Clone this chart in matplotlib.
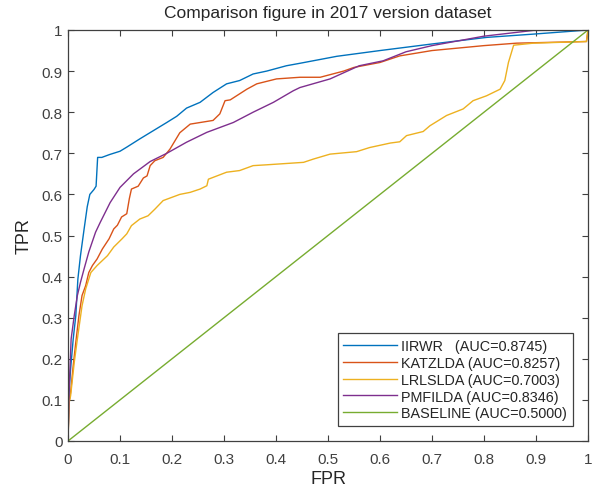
import matplotlib
matplotlib.use("Agg")
import matplotlib.pyplot as plt
from matplotlib.ticker import FuncFormatter

# ROC points
iirwr_fpr = [0, 0.002, 0.005, 0.01, 0.015, 0.019, 0.024, 0.031, 0.037, 0.042,
             0.05, 0.054, 0.057, 0.065, 0.08, 0.1, 0.113, 0.138, 0.164, 0.19,
             0.209, 0.228, 0.254, 0.279, 0.305, 0.33, 0.356, 0.382, 0.42, 0.446,
             0.517, 0.6, 0.7, 0.805, 0.895, 1.0]
iirwr_tpr = [0, 0.118, 0.175, 0.248, 0.305, 0.394, 0.451, 0.516, 0.57, 0.60,
             0.612, 0.62, 0.69, 0.69, 0.697, 0.705, 0.715, 0.735, 0.755, 0.775,
             0.79, 0.81, 0.824, 0.848, 0.869, 0.877, 0.893, 0.90, 0.913, 0.919,
             0.936, 0.95, 0.966, 0.982, 0.99, 1.0]

katz_fpr = [0, 0.002, 0.005, 0.01, 0.015, 0.021, 0.027, 0.034, 0.04, 0.047,
            0.056, 0.066, 0.079, 0.088, 0.095, 0.103, 0.113, 0.118, 0.122, 0.135,
            0.145, 0.152, 0.158, 0.167, 0.183, 0.196, 0.215, 0.235, 0.279, 0.292,
            0.302, 0.312, 0.344, 0.363, 0.401, 0.446, 0.485, 0.53, 0.55, 0.6,
            0.638, 0.70, 0.80, 0.863, 0.997, 1.0]
katz_tpr = [0, 0.093, 0.118, 0.183, 0.24, 0.305, 0.354, 0.378, 0.41, 0.427,
            0.443, 0.467, 0.492, 0.516, 0.525, 0.545, 0.553, 0.59, 0.613, 0.62,
            0.64, 0.645, 0.67, 0.682, 0.69, 0.71, 0.75, 0.771, 0.78, 0.796,
            0.828, 0.83, 0.856, 0.869, 0.881, 0.885, 0.885, 0.90, 0.909, 0.921,
            0.937, 0.95, 0.962, 0.968, 0.972, 1.0]

lrls_fpr = [0, 0.002, 0.005, 0.012, 0.018, 0.027, 0.034, 0.044, 0.056, 0.076,
            0.088, 0.104, 0.113, 0.122, 0.138, 0.154, 0.167, 0.183, 0.215, 0.235,
            0.254, 0.267, 0.27, 0.305, 0.33, 0.356, 0.382, 0.453, 0.472, 0.504,
            0.555, 0.58, 0.62, 0.638, 0.651, 0.683, 0.696, 0.728, 0.76, 0.779,
            0.805, 0.831, 0.84, 0.847, 0.857, 0.895, 0.997, 1.0]
lrls_tpr = [0, 0.093, 0.11, 0.191, 0.248, 0.329, 0.37, 0.41, 0.427, 0.451,
            0.472, 0.492, 0.504, 0.524, 0.54, 0.548, 0.564, 0.585, 0.60, 0.605,
            0.613, 0.621, 0.637, 0.654, 0.658, 0.67, 0.672, 0.678, 0.686, 0.698,
            0.704, 0.714, 0.725, 0.728, 0.743, 0.753, 0.767, 0.792, 0.808, 0.828,
            0.84, 0.856, 0.877, 0.921, 0.963, 0.968, 0.972, 1.0]

pmf_fpr = [0, 0.002, 0.006, 0.012, 0.018, 0.024, 0.031, 0.04, 0.053, 0.062,
           0.081, 0.1, 0.126, 0.158, 0.19, 0.228, 0.267, 0.318, 0.356, 0.395,
           0.433, 0.446, 0.504, 0.56, 0.606, 0.65, 0.70, 0.80, 0.895, 1.0]
pmf_tpr = [0, 0.118, 0.248, 0.305, 0.354, 0.386, 0.419, 0.46, 0.508, 0.532,
           0.58, 0.617, 0.65, 0.68, 0.70, 0.727, 0.751, 0.775, 0.80, 0.824,
           0.852, 0.86, 0.881, 0.913, 0.925, 0.947, 0.962, 0.985, 0.999, 1.0]

base_fpr = [0, 1]
base_tpr = [0, 1]

labels = ["IIRWR   (AUC=0.8745)", "KATZLDA (AUC=0.8257)", "LRLSLDA (AUC=0.7003)",
          "PMFILDA (AUC=0.8346)", "BASELINE (AUC=0.5000)"]
colors = ["#0072BD", "#D95319", "#EDB120", "#7E2F8E", "#77AC30"]

plt.rcParams['font.family'] = ['Liberation Sans', 'DejaVu Sans']
axcol = "#404040"

fig = plt.figure(figsize=(5.96, 4.89), dpi=100)
ax = fig.add_axes([68 / 596, 1 - 442 / 489, 520 / 596, 411 / 489])

curves = [(iirwr_fpr, iirwr_tpr), (katz_fpr, katz_tpr), (lrls_fpr, lrls_tpr),
          (pmf_fpr, pmf_tpr), (base_fpr, base_tpr)]
for (x, y), c, lab in zip(curves, colors, labels):
    ax.plot(x, y, color=c, lw=1.0, label=lab)

ax.set_xlim(0, 1)
ax.set_ylim(0, 1)
ticks = [i / 10 for i in range(11)]
ax.set_xticks(ticks)
ax.set_yticks(ticks)
fmt = FuncFormatter(lambda v, p: "%g" % round(v, 1))
ax.xaxis.set_major_formatter(fmt)
ax.yaxis.set_major_formatter(fmt)
ax.tick_params(direction='in', length=4, width=0.8, colors=axcol,
               labelsize=11, top=True, right=True)
ax.tick_params(axis='x', pad=8)
ax.tick_params(axis='y', pad=4)
for s in ax.spines.values():
    s.set_color(axcol)
    s.set_linewidth(0.9)

ax.set_xlabel("FPR", fontsize=13, color="#262626", labelpad=3)
ax.set_ylabel("TPR", fontsize=13, color="#262626", labelpad=6)
ax.set_title("Comparison figure in 2017 version dataset", fontsize=12.5,
             color="#262626", pad=9)

leg = ax.legend(loc='lower right', bbox_to_anchor=(0.971, 0.036),
                borderaxespad=0, fontsize=10.4, handlelength=3.7,
                handletextpad=0.3, labelspacing=0.2, borderpad=0.4,
                fancybox=False, framealpha=1)
leg.get_frame().set_edgecolor(axcol)
leg.get_frame().set_linewidth(0.9)
for t in leg.get_texts():
    t.set_color("#262626")

fig.savefig("out.png", dpi=100)
